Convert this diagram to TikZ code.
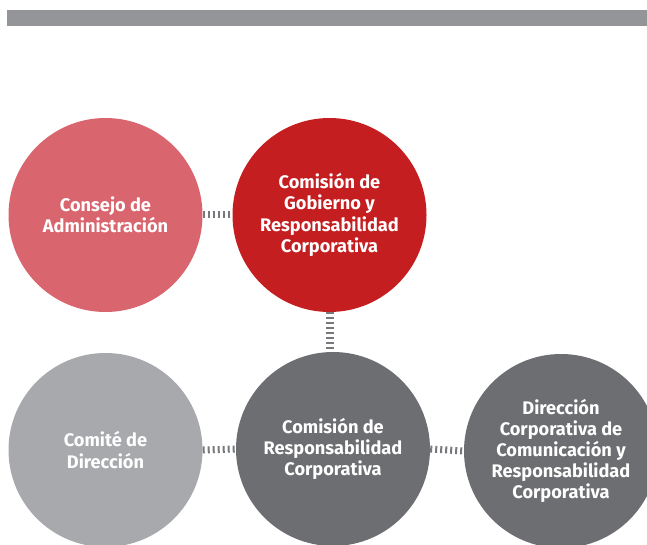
\documentclass[tikz,border=0pt]{standalone}
\usepackage{fontspec}
\setmainfont{Fira Sans}
\definecolor{barg}{HTML}{939598}
\definecolor{pinkr}{HTML}{D9666E}
\definecolor{redc}{HTML}{C41E20}
\definecolor{lightg}{HTML}{A7A9AC}
\definecolor{darkg}{HTML}{6D6E71}
\definecolor{dashg}{HTML}{77787B}
\begin{document}
\begin{tikzpicture}[x=1pt,y=1pt,
  circ/.style={circle,minimum size=194pt,inner sep=0pt,text=white,align=center,
    font=\fontsize{18.2}{21.2}\selectfont\bfseries},
  hlink/.style={draw=dashg,line width=7pt,dash pattern=on 2pt off 3pt},
  vlink/.style={draw=dashg,line width=8pt,dash pattern=on 2pt off 3pt}]
\useasboundingbox (0,0) rectangle (647,544);
\fill[barg] (7,518) rectangle (647,534);
\node[circ,fill=pinkr] (cons) at (105.5,329) {Consejo de\\Administración};
\node[circ,fill=redc] (gob) at (329.5,329) {Comisión de\\Gobierno y\\Responsabilidad\\Corporativa};
\node[circ,fill=lightg] (comi) at (105.5,94) {Comité de\\Dirección};
\node[circ,fill=darkg] (resp) at (333,95) {Comisión de\\Responsabilidad\\Corporativa};
\node[circ,fill=darkg] (dir) at (561,93) {Dirección\\Corporativa de\\Comunicación y\\Responsabilidad\\Corporativa};
\draw[hlink] (cons.east) -- (gob.west);
\draw[vlink] (gob.south) -- (gob.south |- resp.north);
\draw[hlink] (comi.east) -- (resp.west);
\draw[hlink] (resp.east) -- (dir.west);
\end{tikzpicture}
\end{document}
